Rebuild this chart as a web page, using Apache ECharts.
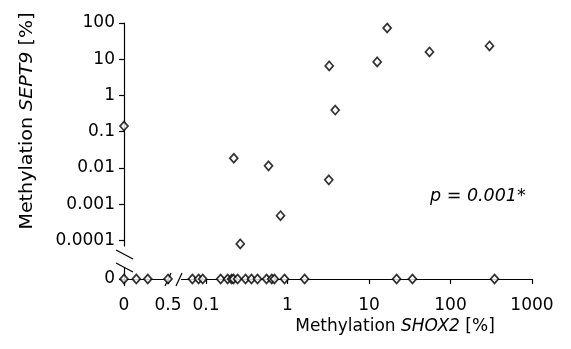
<!DOCTYPE html>
<html>
<head>
<meta charset="utf-8">
<script src="https://cdn.jsdelivr.net/npm/echarts@6/dist/echarts.min.js"></script>
<style>
  html, body { margin: 0; padding: 0; background: #fff; }
  #chart { width: 571px; height: 349px; }
</style>
</head>
<body>
<div id="chart"></div>
<script>
// SHOX2 / SEPT9 methylation [%]
// points where SEPT9 > 0
const upperX = [16.7, 301, 55.2, 12.6, 3.25, 3.85, 0.219, 0.585, 3.21, 0.82, 0.263];
const upperY = [72.8, 23.3, 15.9, 8.45, 6.55, 0.395, 0.0185, 0.0114, 0.00468, 0.00048, 0.00008];
// SHOX2 = 0 but SEPT9 > 0
const axisPointY = [0.143];
// SEPT9 = 0, SHOX2 in the linear part (0 .. 0.5)
const zeroLinX = [0, 0.14, 0.27, 0.5];
// SEPT9 = 0, SHOX2 in the log part
const zeroLogX = [0.068, 0.081, 0.091, 0.151, 0.184, 0.206, 0.217, 0.244, 0.305, 0.361, 0.428,
  0.552, 0.64, 0.69, 0.918, 1.62, 21.8, 34.1, 347];

const yTicks = [0.0001, 0.001, 0.01, 0.1, 1, 10, 100];
const xLogTicks = [0.1, 1, 10, 100, 1000];
const xLinTicks = [0, 0.5];

const font = "DejaVu Sans";
const labelStyle = { color: "#000", fontFamily: font, fontSize: 17 };
const lineStyle = { color: "#000", width: 1.2 };
const marker = {
  type: "scatter",
  symbol: "diamond",
  symbolSize: [8, 9],
  clip: false,
  itemStyle: { color: "#fff", borderColor: "#000", borderWidth: 1.7 },
};
const breakLine = { stroke: "#000", lineWidth: 1.2 };

const chart = echarts.init(document.getElementById("chart"));

const options = {
  animation: false,
  backgroundColor: "#fff",
  grid: [
    { left: 124, top: 23, width: 44, height: 223 },
    { left: 181.5, top: 23, width: 350.5, height: 223 },
    { left: 124, top: 268, width: 44, height: 17.6 },
    { left: 181.5, top: 268, width: 350.5, height: 17.6 },
  ],
  xAxis: [
    { gridIndex: 0, type: "value", min: 0, max: 0.5, show: false },
    { gridIndex: 1, type: "log", min: 0.05, max: 1000, show: false },
    {
      gridIndex: 2,
      type: "value",
      min: 0,
      max: 0.5,
      splitLine: { show: false },
      axisLine: { onZero: true, lineStyle: lineStyle },
      axisTick: { length: 5, customValues: xLinTicks, lineStyle: lineStyle },
      axisLabel: { ...labelStyle, margin: 11, customValues: xLinTicks, formatter: (v) => String(v) },
    },
    {
      gridIndex: 3,
      type: "log",
      min: 0.05,
      max: 1000,
      splitLine: { show: false },
      axisLine: { onZero: true, lineStyle: lineStyle },
      axisTick: { length: 5, customValues: xLogTicks, lineStyle: lineStyle },
      axisLabel: { ...labelStyle, margin: 11, customValues: xLogTicks, formatter: (v) => String(v) },
    },
  ],
  yAxis: [
    {
      gridIndex: 0,
      type: "log",
      min: 0.00007,
      max: 100,
      splitLine: { show: false },
      axisLine: { show: true, lineStyle: lineStyle },
      axisTick: { show: true, length: 5, customValues: yTicks, lineStyle: lineStyle },
      axisLabel: { ...labelStyle, margin: 9, customValues: yTicks, formatter: (v) => String(v) },
    },
    { gridIndex: 1, type: "log", min: 0.00007, max: 100, show: false },
    {
      gridIndex: 2,
      type: "value",
      min: -0.6,
      max: 1,
      splitLine: { show: false },
      axisLine: { show: true, lineStyle: lineStyle },
      axisTick: { show: true, length: 5, customValues: [0], lineStyle: lineStyle },
      axisLabel: { ...labelStyle, margin: 9, customValues: [0], formatter: (v) => String(v) },
    },
    { gridIndex: 3, type: "value", min: -0.6, max: 1, show: false },
  ],
  series: [
    { ...marker, xAxisIndex: 0, yAxisIndex: 0, data: axisPointY.map((y) => [0, y]) },
    { ...marker, xAxisIndex: 1, yAxisIndex: 1, data: upperX.map((x, i) => [x, upperY[i]]) },
    { ...marker, xAxisIndex: 2, yAxisIndex: 2, data: zeroLinX.map((x) => [x, 0]) },
    { ...marker, xAxisIndex: 3, yAxisIndex: 3, data: zeroLogX.map((x) => [x, 0]) },
  ],
  graphic: [
    // axis break marks
    { type: "line", shape: { x1: 165, y1: 286, x2: 171, y2: 273 }, style: breakLine },
    { type: "line", shape: { x1: 176, y1: 286, x2: 182, y2: 273 }, style: breakLine },
    { type: "line", shape: { x1: 116, y1: 250, x2: 133, y2: 259 }, style: breakLine },
    { type: "line", shape: { x1: 116, y1: 263, x2: 133, y2: 272 }, style: breakLine },
    {
      // y axis title
      type: "text",
      x: 27.5,
      y: 121,
      rotation: Math.PI / 2,
      scaleX: 1.09,
      style: {
        text: "{n|Methylation }{i|SEPT9}{n| [%]}",
        align: "center",
        verticalAlign: "middle",
        rich: {
          n: { fontFamily: font, fontSize: 17.5, fill: "#000" },
          i: { fontFamily: font, fontSize: 17.5, fill: "#000", fontStyle: "italic" },
        },
      },
    },
    {
      // x axis title
      type: "text",
      x: 395,
      y: 327,
      style: {
        text: "{n|Methylation }{i|SHOX2}{n| [%]}",
        align: "center",
        verticalAlign: "middle",
        rich: {
          n: { fontFamily: font, fontSize: 17, fill: "#000" },
          i: { fontFamily: font, fontSize: 17, fill: "#000", fontStyle: "italic" },
        },
      },
    },
    {
      type: "text",
      x: 430,
      y: 196,
      style: {
        text: "p = 0.001*",
        fontFamily: font,
        fontSize: 17.5,
        fontStyle: "italic",
        fill: "#000",
        align: "left",
        verticalAlign: "middle",
      },
    },
  ],
};

chart.setOption(options);
</script>
</body>
</html>
